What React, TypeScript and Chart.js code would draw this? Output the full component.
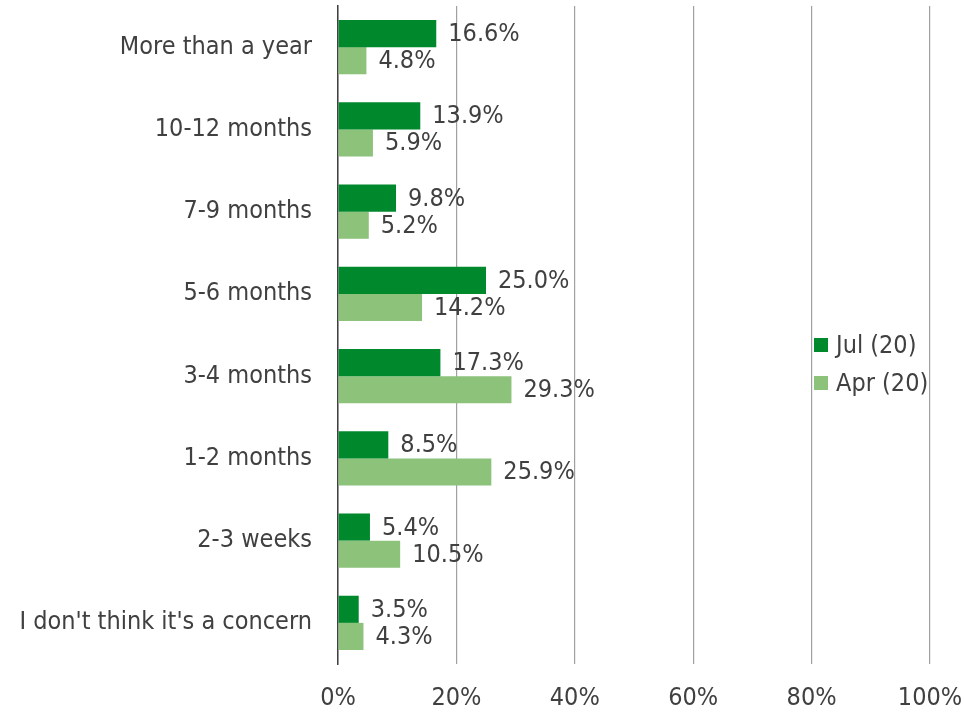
import React, { useEffect, useRef } from "react";
import { Chart, registerables } from "chart.js";

Chart.register(...registerables);

const categories = [
  "More than a year",
  "10-12 months",
  "7-9 months",
  "5-6 months",
  "3-4 months",
  "1-2 months",
  "2-3 weeks",
  "I don't think it's a concern",
];
const seriesNames = ["Jul (20)", "Apr (20)"];
const julValues = [16.6, 13.9, 9.8, 25.0, 17.3, 8.5, 5.4, 3.5];
const aprValues = [4.8, 5.9, 5.2, 14.2, 29.3, 25.9, 10.5, 4.3];
const xTicks = [0, 20, 40, 60, 80, 100];

const FONT = "'DejaVu Sans Condensed', 'DejaVu Sans', Verdana, sans-serif";
const FS = 25;
const TEXT = "#404040";
const COLORS = ["#00882d", "#8cc27a"];

const dataLabelPlugin = {
  id: "dataLabels",
  afterDatasetsDraw(chart: any) {
    const ctx = chart.ctx;
    ctx.save();
    ctx.font = `${FS}px ${FONT}`;
    ctx.fillStyle = TEXT;
    ctx.textAlign = "left";
    ctx.textBaseline = "middle";
    chart.data.datasets.forEach((ds: any, di: number) => {
      const meta = chart.getDatasetMeta(di);
      meta.data.forEach((bar: any, i: number) => {
        const v = ds.data[i];
        ctx.fillText(v.toFixed(1) + "%", bar.x + 12, bar.y + 1);
      });
    });
    ctx.restore();
  },
};

const legendPlugin = {
  id: "customLegend",
  afterDraw(chart: any) {
    const ctx = chart.ctx;
    const x = 814;
    const y0 = 345;
    const gap = 38;
    ctx.save();
    ctx.font = `${FS}px ${FONT}`;
    ctx.textAlign = "left";
    ctx.textBaseline = "middle";
    chart.data.datasets.forEach((ds: any, i: number) => {
      const y = y0 + i * gap;
      ctx.fillStyle = ds.backgroundColor;
      ctx.fillRect(x, y - 7, 14, 14);
      ctx.fillStyle = TEXT;
      ctx.fillText(ds.label, x + 22, y + 1);
    });
    ctx.restore();
  },
};

export default function App() {
  const ref = useRef<HTMLCanvasElement>(null);
  useEffect(() => {
    if (!ref.current) return;
    const chart = new Chart(ref.current, {
      type: "bar",
      data: {
        labels: categories,
        datasets: [
          {
            label: seriesNames[0],
            data: julValues,
            backgroundColor: COLORS[0],
            categoryPercentage: 0.66,
            barPercentage: 1.0,
          },
          {
            label: seriesNames[1],
            data: aprValues,
            backgroundColor: COLORS[1],
            categoryPercentage: 0.66,
            barPercentage: 1.0,
          },
        ],
      },
      options: {
        indexAxis: "y",
        animation: false,
        responsive: true,
        maintainAspectRatio: false,
        layout: { padding: { top: 6, right: 34, left: 0, bottom: 0 } },
        plugins: {
          legend: { display: false },
          tooltip: { enabled: false },
        },
        scales: {
          x: {
            min: 0,
            max: 100,
            afterBuildTicks: (scale: any) => {
              scale.ticks = xTicks.map((v) => ({ value: v }));
            },
            afterFit: (scale: any) => {
              scale.height = 50;
              scale.paddingLeft = 0;
              scale.paddingRight = 0;
            },
            ticks: {
              callback: (v: any) => v + "%",
              font: { family: FONT, size: FS },
              color: TEXT,
              padding: 0,
            },
            grid: {
              color: "#a0a0a0",
              lineWidth: 1.2,
              drawTicks: true,
              tickLength: 19,
              tickColor: "transparent",
            },
            border: { display: false },
          },
          y: {
            afterFit: (scale: any) => {
              scale.width = 338;
              scale.paddingTop = 0;
              scale.paddingBottom = 0;
            },
            ticks: {
              font: { family: FONT, size: FS },
              color: TEXT,
              padding: 0,
            },
            grid: {
              display: true,
              drawOnChartArea: false,
              drawTicks: true,
              tickLength: 26,
              color: "transparent",
              tickColor: "transparent",
            },
            border: { display: true, color: "#404040", width: 1.5 },
          },
        },
      },
      plugins: [dataLabelPlugin, legendPlugin],
    });
    return () => chart.destroy();
  }, []);
  return (
    <div style={{ position: "fixed", left: 0, top: 0, width: 964, height: 714, background: "#fff" }}>
      <canvas ref={ref} />
    </div>
  );
}
